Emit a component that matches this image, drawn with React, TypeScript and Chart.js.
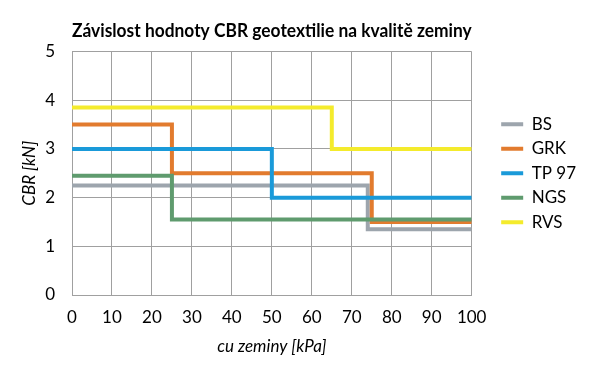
import React, { useEffect, useRef } from "react";
import { Chart, registerables } from "chart.js";

Chart.register(...registerables);

const titleText = "Závislost hodnoty CBR geotextilie na kvalitě zeminy";
const xTitle = "cu zeminy [kPa]";
const yTitle = "CBR [kN]";

// step series: value holds from x[i] until x[i+1]
const bsX = [0, 74, 100];
const bsY = [2.25, 1.35, 1.35];
const grkX = [0, 25, 75, 100];
const grkY = [3.5, 2.5, 1.5, 1.5];
const tpX = [0, 50, 100];
const tpY = [3.0, 2.0, 2.0];
const ngsX = [0, 25, 100];
const ngsY = [2.45, 1.55, 1.55];
const rvsX = [0, 65, 100];
const rvsY = [3.85, 3.0, 3.0];

const seriesNames = ["BS", "GRK", "TP 97", "NGS", "RVS"];
const seriesColors = ["#9DA5AD", "#E27B2E", "#1A9AD9", "#5F9B6E", "#F4EB2C"];

const FONT = "Lato, 'Open Sans', sans-serif";

function pts(xs: number[], ys: number[]) {
  return xs.map((x, i) => ({ x, y: ys[i] }));
}

export default function App() {
  const ref = useRef<HTMLCanvasElement | null>(null);

  useEffect(() => {
    if (!ref.current) return;
    const series = [
      pts(bsX, bsY),
      pts(grkX, grkY),
      pts(tpX, tpY),
      pts(ngsX, ngsY),
      pts(rvsX, rvsY),
    ];
    // reversed so that later series draw on top (Excel order); legend reversed back
    const datasets = series
      .map((data, i) => ({
        label: seriesNames[i],
        data,
        borderColor: seriesColors[i],
        backgroundColor: seriesColors[i],
        borderWidth: 4,
        pointRadius: 0,
        pointHoverRadius: 0,
        stepped: true as const,
        fill: false,
        borderJoinStyle: "miter" as const,
        borderCapStyle: "butt" as const,
        pointStyle: "line" as const,
      }))
      .reverse();

    const chart = new Chart(ref.current, {
      type: "line",
      data: { datasets },
      options: {
        animation: false,
        responsive: true,
        maintainAspectRatio: false,
        layout: { padding: { left: 0, right: 14, top: 0, bottom: 0 } },
        plugins: {
          title: {
            display: true,
            text: titleText,
            fullSize: false,
            color: "#000",
            font: { family: FONT, size: 18, weight: "bold" },
            padding: { top: 20, bottom: 10 },
          },
          legend: {
            display: true,
            position: "right",
            fullSize: false,
            reverse: true,
            align: "center",
            labels: {
              usePointStyle: true,
              pointStyle: "line",
              pointStyleWidth: 22,
              padding: 7.5,
              color: "#000",
              font: { family: FONT, size: 17 },
            },
          },
          tooltip: { enabled: false },
        },
        scales: {
          x: {
            type: "linear",
            min: 0,
            max: 100,
            ticks: {
              stepSize: 10,
              padding: 12,
              color: "#000",
              font: { family: FONT, size: 17 },
              maxRotation: 0,
            },
            grid: { color: "#a0a0a0", lineWidth: 1, drawTicks: false },
            border: { display: true, color: "#a0a0a0" },
            title: {
              display: true,
              text: xTitle,
              color: "#000",
              font: { family: FONT, size: 17, style: "italic" },
              padding: { top: 0, bottom: 18 },
            },
            afterFit: (s: any) => {
              s.height = 80;
            },
          },
          y: {
            type: "linear",
            min: 0,
            max: 5,
            ticks: {
              stepSize: 1,
              padding: 17,
              color: "#000",
              font: { family: FONT, size: 17 },
            },
            grid: { color: "#a0a0a0", lineWidth: 1, drawTicks: false },
            border: { display: true, color: "#a0a0a0" },
            title: {
              display: true,
              text: yTitle,
              color: "#000",
              font: { family: FONT, size: 17, style: "italic" },
              padding: { top: 19, bottom: 0 },
            },
            afterFit: (s: any) => {
              s.width = 72;
            },
          },
          spacer: {
            type: "linear",
            position: "right",
            display: true,
            grid: { display: false, drawTicks: false },
            border: { display: false },
            ticks: { display: false },
            afterFit: (s: any) => {
              s.width = 22;
            },
          },
        },
      },
    });
    return () => chart.destroy();
  }, []);

  return (
    <div
      style={{
        position: "absolute",
        left: 0,
        top: 0,
        width: 600,
        height: 375,
        background: "#fff",
      }}
    >
      <canvas ref={ref} />
    </div>
  );
}
